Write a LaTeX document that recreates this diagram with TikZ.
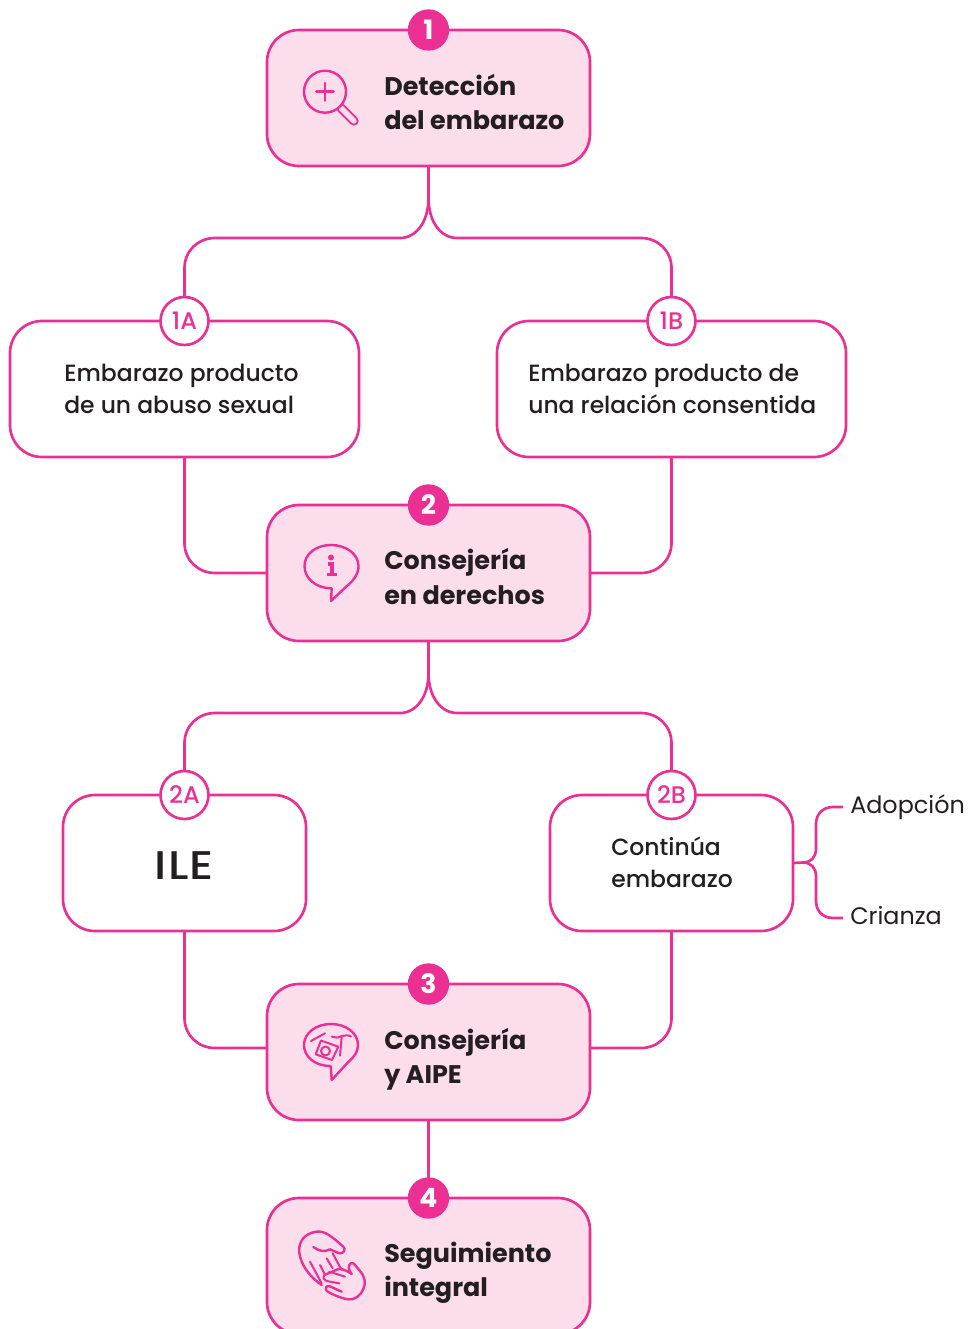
\documentclass[tikz,border=0pt]{standalone}
\usepackage{fontspec}
\setmainfont{Poppins}
\newfontfamily\medfont{Poppins Medium}
\definecolor{rosa}{HTML}{EC3093}
\definecolor{rosafill}{HTML}{FBDDEB}
\definecolor{ink}{HTML}{231F20}
\newcommand{\headfont}{\fontsize{19.1}{25.8}\selectfont\bfseries\color{ink}}
\newcommand{\bodyfont}{\fontsize{17.6}{24}\selectfont\medfont\color{ink}}
\newcommand{\sidefont}{\fontsize{17.9}{24}\selectfont\color{ink}}
\tikzset{
  link/.style={draw=rosa,line width=2pt},
  mainbox/.style={draw=rosa,fill=rosafill,line width=2pt,rounded corners=24pt,minimum width=242.25pt,minimum height=102pt,outer sep=0pt,inner sep=0pt},
  subbox/.style={draw=rosa,fill=white,line width=2pt,rounded corners=24pt,minimum height=102pt,outer sep=0pt,inner sep=0pt},
  numdot/.style={circle,fill=rosa,minimum size=31pt,inner sep=0pt,text=white,font=\fontsize{20}{20}\selectfont\bfseries},
  subdot/.style={circle,draw=rosa,fill=white,line width=2pt,minimum size=36pt,inner sep=0pt,text=rosa,font=\fontsize{18}{18}\selectfont\medfont},
  headtxt/.style={anchor=west,align=left,inner sep=0pt,font=\headfont},
  bodytxt/.style={anchor=west,align=left,inner sep=0pt,font=\bodyfont},
  sidetxt/.style={anchor=west,align=left,inner sep=0pt,font=\sidefont},
  icon/.style={draw=rosa,line width=1.8pt,line cap=round,line join=round},
  iconthin/.style={draw=rosa,line width=1.5pt,line cap=round,line join=round},
}
\begin{document}
\begin{tikzpicture}[x=0.75pt,y=-0.75pt]
\useasboundingbox (0,0) rectangle (968,1329);
\clip (0,0) rectangle (968,1329);
% named points
\coordinate (f1) at (428.5,198);
\coordinate (l1) at (400,238);
\coordinate (r1) at (457,238);
\coordinate (f2) at (428.5,673);
\coordinate (l2) at (400,713);
\coordinate (r2) at (457,713);
% nodes
\node[mainbox] (b1) at (428.5,98) {};
\node[subbox,minimum width=261.75pt] (a1) at (184.5,389) {};
\node[subbox,minimum width=261.75pt] (c1) at (671.5,389) {};
\node[mainbox] (b2) at (428.5,573) {};
\node[subbox,minimum width=182.25pt] (a2) at (184.5,863) {};
\node[subbox,minimum width=182.25pt] (c2) at (671.5,863) {};
\node[mainbox] (b3) at (428.5,1052) {};
\node[mainbox] (b4) at (428.5,1266) {};
\coordinate (in3l) at (267,1048);
\coordinate (in3r) at (590,1048);
% connectors
\draw[link] (b1.south) -- (f1) .. controls (428.5,222) and (416,238) .. (l1) -- (215,238) .. controls (198,238) and (184.5,251) .. (184.5,268) -- (a1.north);
\draw[link] (f1) .. controls (428.5,222) and (441,238) .. (r1) -- (641,238) .. controls (658,238) and (671.5,251) .. (671.5,268) -- (c1.north);
\draw[link] (a1.south) -- (184.5,543) .. controls (184.5,560) and (198,573) .. (215,573) -- (b2.west);
\draw[link] (c1.south) -- (671.5,543) .. controls (671.5,560) and (658,573) .. (641,573) -- (b2.east);
\draw[link] (b2.south) -- (f2) .. controls (428.5,697) and (416,713) .. (l2) -- (215,713) .. controls (198,713) and (184.5,726) .. (184.5,743) -- (a2.north);
\draw[link] (f2) .. controls (428.5,697) and (441,713) .. (r2) -- (641,713) .. controls (658,713) and (671.5,726) .. (671.5,743) -- (c2.north);
\draw[link] (a2.south) -- (184.5,1018) .. controls (184.5,1035) and (198,1048) .. (215,1048) -- (in3l);
\draw[link] (c2.south) -- (671.5,1018) .. controls (671.5,1035) and (658,1048) .. (641,1048) -- (in3r);
\draw[link] (b3.south) -- (b4.north);
% brace
\coordinate (adp) at (843,807);
\coordinate (cri) at (843,918);
\draw[link] (c2.east) -- (803,862.5) .. controls (811,862.5) and (816,857) .. (816,849) -- (816,824) .. controls (816,814) and (823,807) .. (833,807) -- (adp);
\draw[link] (803,862.5) .. controls (811,862.5) and (816,868) .. (816,876) -- (816,901) .. controls (816,911) and (823,918) .. (833,918) -- (cri);
% badges
\node[numdot] (n1) at (428.5,30) {1};
\node[numdot] (n2) at (428.5,505) {2};
\node[numdot] (n3) at (428.5,984) {3};
\node[numdot] (n4) at (428.5,1198) {4};
\node[subdot] (s1a) at (184.5,321) {1A};
\node[subdot] (s1b) at (671.5,321) {1B};
\node[subdot] (s2a) at (184.5,795) {2A};
\node[subdot] (s2b) at (671.5,795) {2B};
% texts
\node[headtxt] (t1) at (384,102) {Detección\\del embarazo};
\node[headtxt] (t2) at (384,576.5) {Consejería\\en derechos};
\node[headtxt] (t3) at (384,1059) {Consejería\\y AIPE};
\node[headtxt] (t4) at (384,1273) {Seguimiento\\integral};
\node[bodytxt] (ta1) at (64,389) {Embarazo producto\\de un abuso sexual};
\node[bodytxt] (tc1) at (528,389) {Embarazo producto de\\una relación consentida};
\node[bodytxt] (tc2) at (611,862.5) {Continúa\\embarazo};
\node[inner sep=0pt,font=\fontsize{30}{30}\selectfont\medfont\addfontfeature{FakeStretch=1.15,LetterSpace=3},text=ink] (ile) at (184.5,866) {ILE};
\node[sidetxt] (tad) at (850,807) {Adopción};
\node[sidetxt] (tcr) at (850,916) {Crianza};
% icon: magnifier
\draw[rosa,line width=7pt,line cap=round] (341,108) -- (354,121);
\draw[rosafill,line width=4pt,line cap=round] (341,108) -- (354,121);
\draw[icon,fill=rosafill] (325,91.7) circle[radius=21];
\draw[icon,line width=2pt] (325,83) -- (325,100.5) (316.5,91.7) -- (333.5,91.7);
% icon: info bubble
\draw[icon] (331.7,588.3) .. controls (315,588) and (304.5,578) .. (304.5,566) .. controls (304.5,554) and (316,545) .. (331,545) .. controls (346,545) and (358.5,554) .. (358.5,566) .. controls (358.5,574) and (354,580) .. (348,585) -- (331,601) -- cycle;
\fill[rosa] (331,557.5) circle[radius=3];
\draw[rosa,line width=2.6pt] (327.5,564) -- (332,564) -- (332,574.5) (327,574.5) -- (337,574.5);
% icon: AIPE bubble
\draw[icon] (330.7,1066) .. controls (314,1066) and (304,1056) .. (304,1045) .. controls (304,1033) and (316,1024) .. (331,1024) .. controls (346,1024) and (358,1033) .. (358,1045) .. controls (358,1052) and (354,1057) .. (348.3,1062) -- (331.7,1080) -- cycle;
\draw[iconthin] (311,1041) -- (325,1033.3);
\draw[iconthin] (321,1040.5) -- (338.3,1046.7) -- (332,1060) -- (315.7,1054.3) -- cycle;
\draw[iconthin] (325.5,1051) circle[radius=4.5];
\draw[iconthin] (341.7,1037) -- (340,1055.7);
\draw[iconthin] (331.7,1036.5) .. controls (335,1038) and (338,1038) .. (341.7,1036) .. controls (345,1035) and (349,1035) .. (351,1036.5);
% icon: hands
\begin{scope}[shift={(280,1215)},x=0.25pt,y=-0.25pt]
\draw[icon] (125,210) .. controls (95,190) and (70,160) .. (60,125) .. controls (50,85) and (70,55) .. (110,50) .. controls (135,48) and (150,60) .. (190,95) .. controls (198,103) and (192,115) .. (180,115) .. controls (165,112) and (160,105) .. (150,103) .. controls (135,112) and (115,108) .. (100,96);
\draw[iconthin] (90,140) -- (125,205) (120,150) -- (133,175) (140,130) -- (158,160) (158,115) -- (185,165);
\draw[icon] (133,180) -- (180,160) .. controls (195,165) and (205,170) .. (215,177) .. controls (205,165) and (203,152) .. (212,145) .. controls (222,140) and (228,155) .. (240,168) .. controls (255,185) and (258,205) .. (250,222) .. controls (240,245) and (222,255) .. (205,253) .. controls (185,250) and (160,240) .. (142,229) .. controls (133,222) and (138,210) .. (150,214) -- (185,230);
\draw[iconthin] (133,180) .. controls (128,190) and (132,195) .. (140,198) -- (178,205);
\draw[iconthin] (148,170) -- (195,185);
\end{scope}
\end{tikzpicture}
\end{document}
